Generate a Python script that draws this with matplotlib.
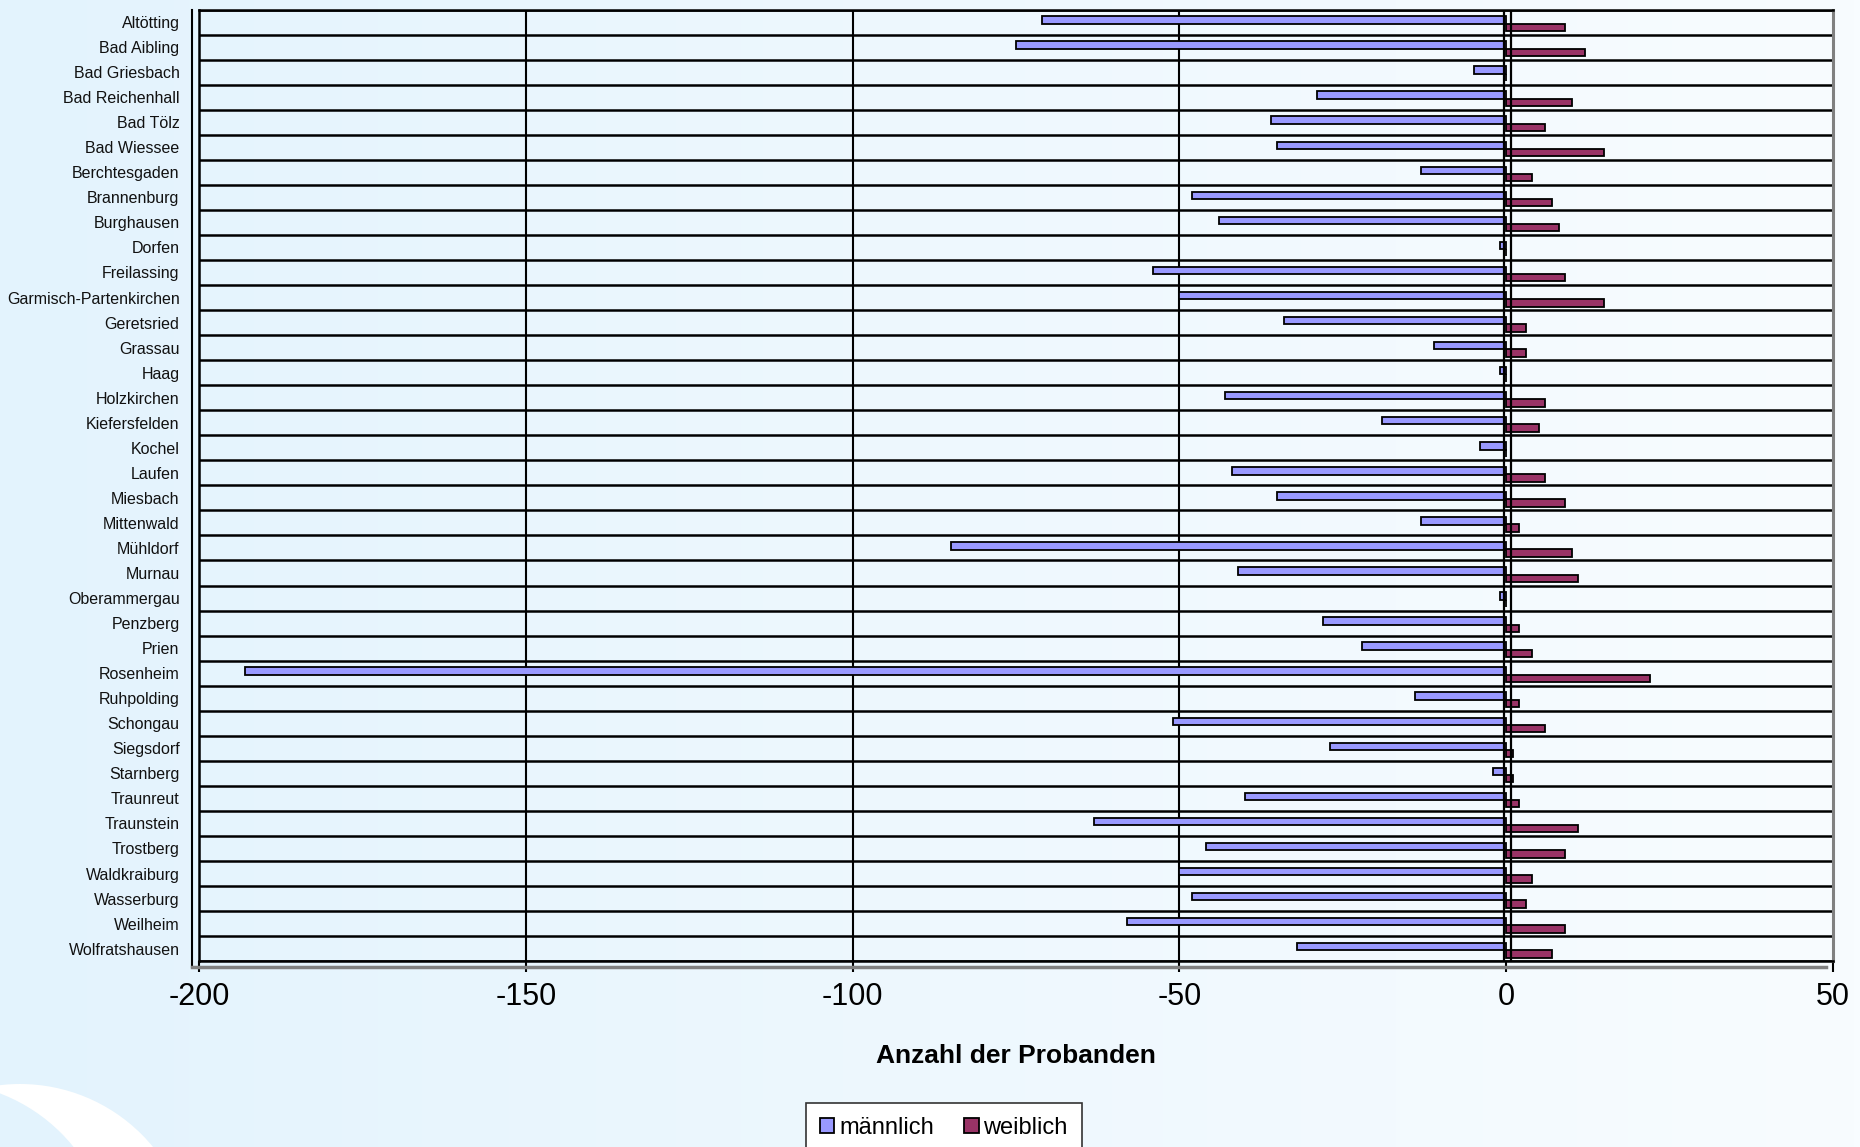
import numpy as np
import matplotlib.pyplot as plt
from matplotlib.colors import LinearSegmentedColormap
from matplotlib.patches import Circle

orte = ["Altötting", "Bad Aibling", "Bad Griesbach", "Bad Reichenhall", "Bad Tölz",
        "Bad Wiessee", "Berchtesgaden", "Brannenburg", "Burghausen", "Dorfen",
        "Freilassing", "Garmisch-Partenkirchen", "Geretsried", "Grassau", "Haag",
        "Holzkirchen", "Kiefersfelden", "Kochel", "Laufen", "Miesbach", "Mittenwald",
        "Mühldorf", "Murnau", "Oberammergau", "Penzberg", "Prien", "Rosenheim",
        "Ruhpolding", "Schongau", "Siegsdorf", "Starnberg", "Traunreut", "Traunstein",
        "Trostberg", "Waldkraiburg", "Wasserburg", "Weilheim", "Wolfratshausen"]

# männliche Probanden nach links (negativ)
maennlich = [-71, -75, -5, -29, -36, -35, -13, -48, -44, -1,
             -54, -50, -34, -11, -1, -43, -19, -4, -42, -35, -13,
             -85, -41, -1, -28, -22, -193, -14, -51, -27, -2, -40, -63,
             -46, -50, -48, -58, -32]
weiblich = [9, 12, 0, 10, 6, 15, 4, 7, 8, 0,
            9, 15, 3, 3, 0, 6, 5, 0, 6, 9, 2,
            10, 11, 0, 2, 4, 22, 2, 6, 1, 1, 2, 11,
            9, 4, 3, 9, 7]

xticks = [-200, -150, -100, -50, 0, 50]

plt.rcParams['font.family'] = ['Liberation Sans', 'DejaVu Sans']

fig = plt.figure(figsize=(18.6, 11.47), dpi=100)

# hintergrund mit verlauf
bg = fig.add_axes([0, 0, 1, 1], zorder=-10)
cmap = LinearSegmentedColormap.from_list('bg', ['#e3f3fd', '#eef8fe', '#f8fcff'])
bg.imshow(np.linspace(0, 1, 256).reshape(1, -1), aspect='auto', cmap=cmap,
          extent=[0, 1860, 1147, 0])
bg.set_xlim(0, 1860)
bg.set_ylim(1147, 0)
bg.axis('off')
# weisser bogen unten links
bg.add_patch(Circle((20, 1256), 172, color='white', lw=0))
bg.add_patch(Circle((-62, 1256), 174, color='#e3f3fd', lw=0))

ax = fig.add_axes([0.107, 0.162, 0.8785, 0.8297])
ax.set_facecolor('none')

y = np.arange(len(orte))
ax.barh(y - 0.08, maennlich, height=0.3, color='#9999ff', edgecolor='black',
        linewidth=1.3, label='männlich', zorder=3)
ax.barh(y + 0.21, weiblich, height=0.3, color='#993366', edgecolor='black',
        linewidth=1.3, label='weiblich', zorder=3)

ax.set_xlim(-200, 50)
ax.set_ylim(len(orte) - 0.5, -0.5)

# gitterlinien
for b in np.arange(len(orte) + 1) - 0.5:
    ax.axhline(b, color='black', lw=1.8, zorder=1)
for xv in [-150, -100, -50]:
    ax.axvline(xv, color='black', lw=1.5, zorder=1)
ax.axvline(-0.35, color='black', lw=1.6, zorder=4)
ax.axvline(0.75, color='black', lw=1.6, zorder=4)

for s in ['top', 'bottom', 'left']:
    ax.spines[s].set_color('black')
    ax.spines[s].set_linewidth(1.8)
ax.spines['right'].set_color('#808080')
ax.spines['right'].set_linewidth(2.2)

# 3D-wand links und boden
ax.plot([-0.004, -0.004], [-0.006, 1.0], transform=ax.transAxes, color='black',
        lw=1.5, clip_on=False)
ax.plot([-0.004, 0.996], [-0.006, -0.006], transform=ax.transAxes, color='#808080',
        lw=2.5, clip_on=False)

ax.set_yticks(y)
ax.set_yticklabels(orte, fontsize=11.5, color='#111111')
ax.tick_params(axis='y', length=0, pad=14)
ax.set_xticks(xticks)
ax.set_xticklabels([str(v) for v in xticks], fontsize=22)
ax.tick_params(axis='x', length=8, width=1.5, direction='out', pad=7)

ax.set_xlabel('Anzahl der Probanden', fontsize=19, fontweight='bold', labelpad=23)

leg = fig.legend(loc='upper center', bbox_to_anchor=(0.5075, 0.0384), ncol=2,
                 fontsize=17, frameon=True, fancybox=False, handlelength=0.6,
                 handleheight=0.6, handletextpad=0.2, columnspacing=1.3,
                 borderpad=0.6, borderaxespad=0)
leg.get_frame().set_edgecolor('#333333')
leg.get_frame().set_linewidth(1.2)
leg.get_frame().set_facecolor('white')
leg.get_frame().set_alpha(1)

fig.savefig('out.png', dpi=100)
